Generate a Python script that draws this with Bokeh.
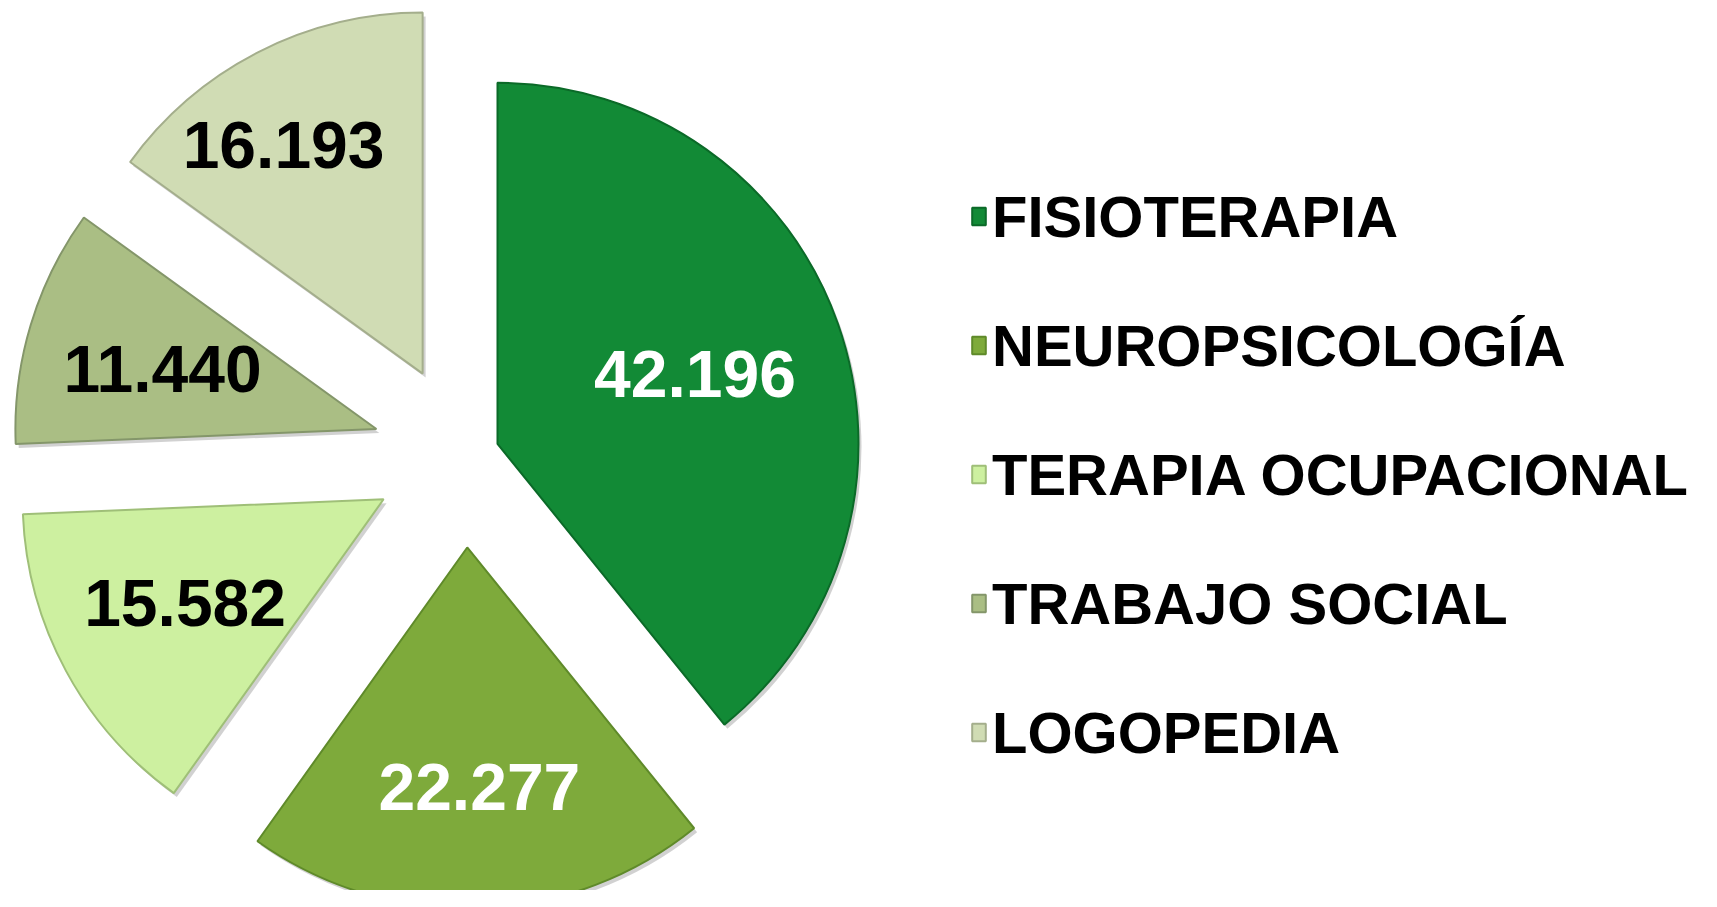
import math
from bokeh.plotting import figure
from bokeh.models import ColumnDataSource, Range1d, Legend, LegendItem
from bokeh.core.properties import value
from bokeh.embed import file_html
from bokeh.resources import INLINE

# ---- data ----
categories = ["FISIOTERAPIA", "NEUROPSICOLOGÍA", "TERAPIA OCUPACIONAL",
              "TRABAJO SOCIAL", "LOGOPEDIA"]
values = [42196, 22277, 15582, 11440, 16193]
value_labels = ["42.196", "22.277", "15.582", "11.440", "16.193"]
colors = ["#128a36", "#7eaa3b", "#cdf0a0", "#aabe84", "#d0dcb4"]
edge_colors = ["#0b6a28", "#5f8a2a", "#9fbf78", "#84966a", "#a4ae8c"]
label_colors = ["#ffffff", "#ffffff", "#000000", "#000000", "#000000"]

# ---- layout constants ----
W, H = 1700, 890
CX, CY = 464, 435          # pie centre (data units = px)
R = 361                    # radius
explode = [35, 92, 92, 92, 92]
label_r = [0.58, 0.665, 0.62, 0.615, 0.74]
label_da = [0.0, -1.2, 0.9, -1.1, -4.3]   # degrees, clockwise

total = float(sum(values))
xs, ys, starts, ends, lx, ly = [], [], [], [], [], []
c0 = 0.0
for i, v in enumerate(values):
    span = v / total * 360.0
    t1, t2 = c0, c0 + span
    mid = math.radians((t1 + t2) / 2)
    x = CX + explode[i] * math.sin(mid)
    y = CY + explode[i] * math.cos(mid)
    xs.append(x)
    ys.append(y)
    starts.append(math.radians(90 - t2))
    ends.append(math.radians(90 - t1))
    la = mid + math.radians(label_da[i])
    lx.append(x + label_r[i] * R * math.sin(la))
    ly.append(y + label_r[i] * R * math.cos(la))
    c0 = t2

src = ColumnDataSource(dict(x=xs, y=ys, sx=[a + 3 for a in xs], sy=[b - 4 for b in ys],
                            start=starts, end=ends, color=colors, edge=edge_colors,
                            cat=categories, lx=lx, ly=ly, lab=value_labels,
                            lc=label_colors))

p = figure(width=W, height=H, x_range=Range1d(0, W), y_range=Range1d(0, H),
           output_backend="svg", toolbar_location=None, min_border=0,
           x_axis_type=None, y_axis_type=None)
p.grid.visible = False
p.outline_line_color = None
p.background_fill_color = "white"

# soft shadow
p.wedge(x="sx", y="sy", radius=R, start_angle="start", end_angle="end",
        source=src, fill_color="#000000", fill_alpha=0.18, line_color=None)

r = p.wedge(x="x", y="y", radius=R, start_angle="start", end_angle="end",
            source=src, fill_color="color", line_color="edge", line_width=2)

p.text(x="lx", y="ly", text="lab", source=src, text_color="lc",
       text_font=value("Liberation Sans"), text_font_style="bold",
       text_font_size="66px", text_align="center", text_baseline="middle")

items = [LegendItem(label=c, renderers=[r], index=i) for i, c in enumerate(categories)]
legend = Legend(items=items, location=(970, 123), orientation="vertical",
                glyph_width=17, glyph_height=22, label_standoff=5,
                label_height=70, spacing=59, padding=0, margin=0,
                label_text_font="Liberation Sans", label_text_font_style="bold",
                label_text_font_size="58px", label_text_color="#000000",
                border_line_color=None, background_fill_alpha=0)
p.add_layout(legend, "center")

open("out.html", "w").write(file_html(p, INLINE))
